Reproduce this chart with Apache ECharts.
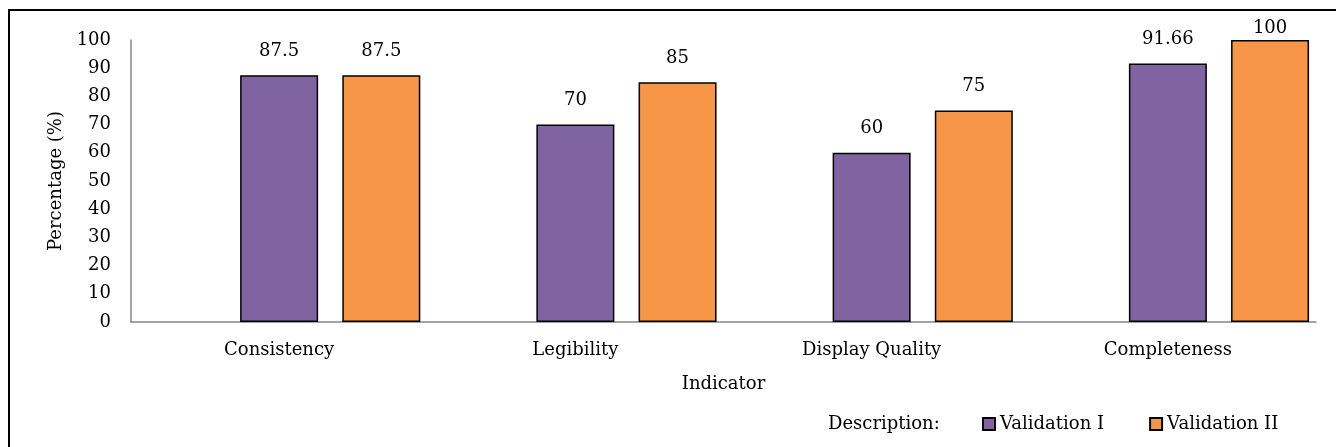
<!DOCTYPE html>
<html>
<head>
<meta charset="utf-8">
<script src="https://cdn.jsdelivr.net/npm/echarts@6/dist/echarts.min.js"></script>
<style>
  html, body { margin: 0; padding: 0; background: #fff; }
  #main { width: 1336px; height: 447px; }
</style>
</head>
<body>
<div id="main"></div>
<script>
var categories = ['Consistency', 'Legibility', 'Display Quality', 'Completeness'];
var validation1 = [87.5, 70, 60, 91.66];
var validation2 = [87.5, 85, 75, 100];
var spacer = [null, null, null, null]; // empty first slot, like the original sheet
var yTicks = [0, 10, 20, 30, 40, 50, 60, 70, 80, 90, 100];

var font = '"Palatino Linotype", "Book Antiqua", Palatino, "DejaVu Serif", serif';
var fs = 18;
var myChart = echarts.init(document.getElementById('main'));

function labelled(values) {
  return values.map(function (v) {
    // value at the very top gets squeezed down in the original
    if (v >= 100) return { value: v, label: { distance: 3 } };
    return v;
  });
}

var barStyle = { borderColor: '#000', borderWidth: 1.5 };
var txt = { fontFamily: font, fontSize: fs, color: '#000' };

var option = {
  animation: false,
  textStyle: { fontFamily: font, color: '#000' },
  graphic: [
    {
      type: 'rect',
      shape: { x: 9, y: 10, width: 1400, height: 500 },
      style: { fill: 'none', stroke: '#000', lineWidth: 2 }
    },
    {
      type: 'text',
      left: 828,
      top: 415,
      style: { text: 'Description:', font: fs + 'px ' + font, fill: '#000' }
    }
  ],
  grid: { left: 131, right: 20, top: 40, bottom: 125 },
  legend: {
    data: ['Validation I', 'Validation II'],
    left: 982,
    top: 415,
    padding: 0,
    icon: 'rect',
    itemWidth: 12,
    itemHeight: 12,
    itemGap: 45,
    textStyle: txt
  },
  xAxis: {
    type: 'category',
    data: categories,
    name: 'Indicator',
    nameLocation: 'middle',
    nameGap: 53,
    nameTextStyle: txt,
    axisLine: { lineStyle: { color: '#878787', width: 1.5 } },
    axisTick: { show: false },
    axisLabel: Object.assign({ margin: 19 }, txt)
  },
  yAxis: {
    type: 'value',
    min: yTicks[0],
    max: yTicks[yTicks.length - 1],
    interval: 10,
    name: 'Percentage (%)',
    nameLocation: 'middle',
    nameGap: 62,
    nameTextStyle: txt,
    axisLine: { show: true, lineStyle: { color: '#878787', width: 1.5 } },
    axisTick: { show: false },
    splitLine: { show: false },
    axisLabel: Object.assign({ margin: 20 }, txt)
  },
  series: [
    {
      name: 'spacer',
      type: 'bar',
      data: spacer,
      barWidth: 78,
      barGap: '31%'
    },
    {
      name: 'Validation I',
      type: 'bar',
      data: labelled(validation1),
      barWidth: 78,
      barGap: '31%',
      itemStyle: Object.assign({ color: '#8064A2' }, barStyle),
      label: Object.assign({ show: true, position: 'top', distance: 15 }, txt)
    },
    {
      name: 'Validation II',
      type: 'bar',
      data: labelled(validation2),
      barWidth: 78,
      barGap: '31%',
      itemStyle: Object.assign({ color: '#F79646' }, barStyle),
      label: Object.assign({ show: true, position: 'top', distance: 15 }, txt)
    }
  ]
};

myChart.setOption(option);
</script>
</body>
</html>
